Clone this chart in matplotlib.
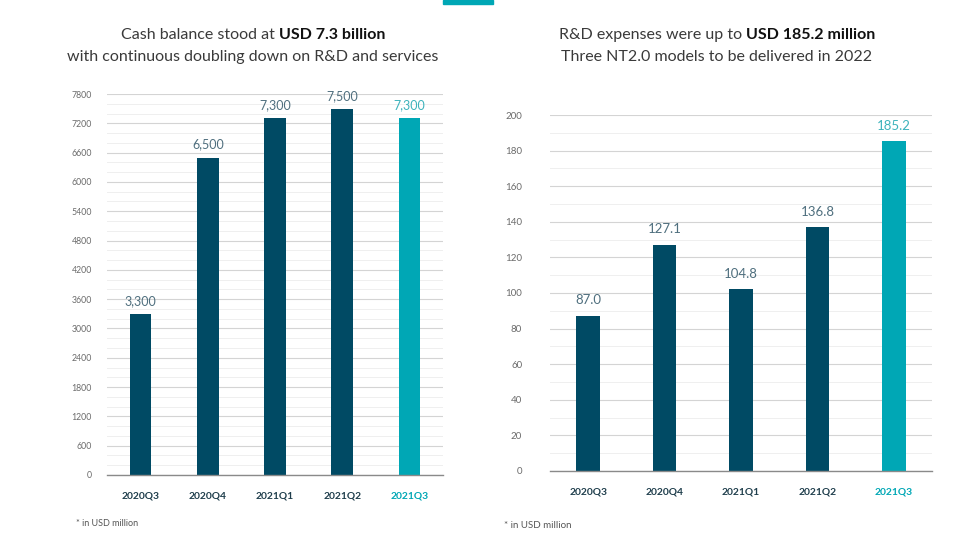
import matplotlib
matplotlib.use("Agg")
import matplotlib.pyplot as plt
from matplotlib.patches import Rectangle
from matplotlib.ticker import MultipleLocator

plt.rcParams["font.family"] = ["Lato", "DejaVu Sans"]

QUARTERS = ["2020Q3", "2020Q4", "2021Q1", "2021Q2", "2021Q3"]

CASH        = [3300, 6500, 7300, 7500, 7300]
CASH_LABELS = ["3,300", "6,500", "7,300", "7,500", "7,300"]

RND         = [87.0, 127.1, 102.0, 136.8, 185.2]
RND_LABELS  = ["87.0", "127.1", "104.8", "136.8", "185.2"]

NAVY   = "#004a64"
TEAL   = "#00a7b5"
LBL    = "#4f6f7e"
TEALL  = "#3db3bc"
TICKC  = "#1f3e4c"

W, H = 960, 540
fig = plt.figure(figsize=(9.6, 5.4), dpi=100, facecolor="white")

# top accent
fig.patches.append(Rectangle((443 / W, 1 - 4 / H), 50 / W, 4 / H,
                             transform=fig.transFigure, color=TEAL, zorder=5))


def px(x, y):
    return x / W, 1 - y / H


def bar_panel(rect, vals, labels, ymax, major, minor, ytick_fs, ypad, width, off, lfs):
    ax = fig.add_axes(rect)
    x = list(range(len(vals)))
    cols = [NAVY] * (len(vals) - 1) + [TEAL]
    ax.bar(x, vals, width=width, color=cols, zorder=3)
    ax.set_xlim(-0.5, len(vals) - 0.5)
    ax.set_ylim(0, ymax)
    ax.yaxis.set_major_locator(MultipleLocator(major))
    ax.yaxis.set_minor_locator(MultipleLocator(minor))
    ax.grid(axis="y", which="major", color="#d4d4d4", lw=0.8, zorder=0)
    ax.grid(axis="y", which="minor", color="#efefef", lw=0.7, zorder=0)
    for s in ["top", "right", "left"]:
        ax.spines[s].set_visible(False)
    ax.spines["bottom"].set_color("#8a8a8a")
    ax.spines["bottom"].set_linewidth(1.0)
    ax.spines["bottom"].set_zorder(4)
    ax.tick_params(axis="y", which="both", length=0, labelsize=ytick_fs,
                   labelcolor="#6b6b6b", pad=ypad)
    ax.tick_params(axis="x", length=0, pad=12)
    ax.set_xticks(x)
    ax.set_xticklabels(QUARTERS, fontsize=7.4, fontweight="bold")
    for i, t in enumerate(ax.get_xticklabels()):
        t.set_color(TEAL if i == len(vals) - 1 else TICKC)
    for i, (v, l) in enumerate(zip(vals, labels)):
        ax.annotate(l, (i, v), xytext=(0, off), textcoords="offset points",
                    ha="center", va="bottom", fontsize=lfs,
                    color=TEALL if i == len(vals) - 1 else LBL)
    return ax


bar_panel([107 / W, 1 - 475 / H, 336 / W, 381 / H], CASH, CASH_LABELS,
          7800, 600, 200, 6.3, 11, 0.32, 5, 9)
bar_panel([550 / W, 1 - 471 / H, 382 / W, 356 / H], RND, RND_LABELS,
          200, 20, 10, 7, 20, 0.31, 7, 9.5)

fig.text(*px(76, 524), "* in USD million", fontsize=6.5, color="#555555",
         va="center", ha="left")
fig.text(*px(504, 526), "* in USD million", fontsize=7, color="#555555",
         va="center", ha="left")

# titles with bold part
renderer = fig.canvas.get_renderer()


def mixed_title(cx, y, normal, bold, fs=11.5):
    t1 = fig.text(0, 0, normal, fontsize=fs, fontweight="normal", color="#3a3a3a",
                  ha="left", va="center")
    t2 = fig.text(0, 0, bold, fontsize=fs, fontweight="bold", color="#111111",
                  ha="left", va="center")
    w1 = t1.get_window_extent(renderer).width
    w2 = t2.get_window_extent(renderer).width
    x0 = cx - (w1 + w2) / 2
    t1.set_position(px(x0, y))
    t2.set_position(px(x0 + w1, y))


def plain_title(cx, y, s, fs=11.5):
    fig.text(*px(cx, y), s, fontsize=fs, fontweight="normal", color="#3a3a3a",
             ha="center", va="center")


mixed_title(253, 35, "Cash balance stood at ", "USD 7.3 billion")
plain_title(253, 57, "with continuous doubling down on R&D and services")
mixed_title(717, 35, "R&D expenses were up to ", "USD 185.2 million")
plain_title(717, 57, "Three NT2.0 models to be delivered in 2022")

fig.savefig("out.png", dpi=100, facecolor="white")
